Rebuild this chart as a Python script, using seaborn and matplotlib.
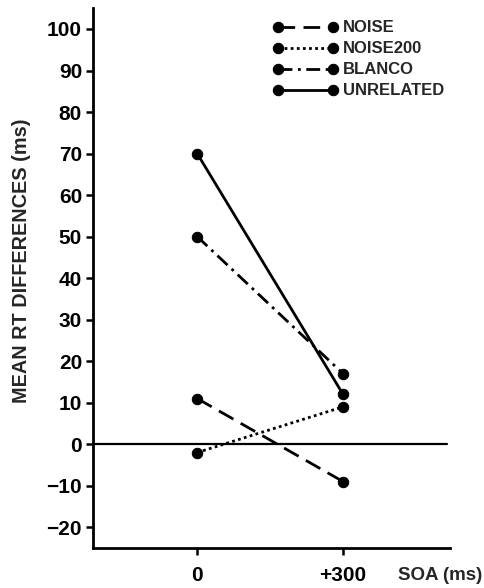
import seaborn as sns
import pandas as pd
import matplotlib.pyplot as plt

sns.set_style('ticks')
plt.rcParams['font.family'] = ['Liberation Sans', 'DejaVu Sans']
plt.rcParams['font.weight'] = 'bold'

soa = [0, 300]
noise = [11, -9]
noise200 = [-2, 9]
blanco = [50, 17]
unrelated = [70, 12]
conditions = ['NOISE', 'NOISE200', 'BLANCO', 'UNRELATED']
tick_labels = ['0', '+300']

series = {'NOISE': noise, 'NOISE200': noise200, 'BLANCO': blanco, 'UNRELATED': unrelated}
rows = []
for name in conditions:
    for x, y in zip(soa, series[name]):
        rows.append({'soa': x, 'rt': y, 'cond': name})
df = pd.DataFrame(rows)

styles = {'NOISE': (0, (6, 3)), 'NOISE200': (0, (1, 1.2)),
          'BLANCO': (0, (5, 2, 1, 2)), 'UNRELATED': '-'}

fig = plt.figure(figsize=(4.85, 5.88), dpi=100)
ax = fig.add_axes([0.192, 0.068, 0.736, 0.918])

ax.axhline(0, color='black', lw=1.6, xmax=0.99, zorder=1)
for name in conditions:
    sub = df[df['cond'] == name]
    sns.lineplot(data=sub, x='soa', y='rt', ax=ax, color='black', lw=2,
                 linestyle=styles[name], marker='o', markersize=7.5,
                 markeredgecolor='black', label=name)

ax.set_xlim(-214, 520)
ax.set_ylim(-25, 105)
ax.set_xticks(soa)
ax.set_xticklabels(tick_labels, fontsize=15, fontweight='bold')
ax.set_yticks(range(-20, 101, 10))
ax.set_yticklabels([str(v).replace('-', '\u2212') for v in range(-20, 101, 10)],
                   fontsize=15, fontweight='bold')
ax.tick_params(axis='both', direction='out', length=5, width=1.8, colors='black', pad=3)
ax.tick_params(axis='x', pad=8)
sns.despine(ax=ax)
for s in ['left', 'bottom']:
    ax.spines[s].set_linewidth(2)
    ax.spines[s].set_color('black')

ax.set_xlabel('')
ax.set_ylabel('')
ax.text(-0.202, 0.533, 'MEAN RT DIFFERENCES (ms)', transform=ax.transAxes,
        rotation=90, ha='center', va='center', fontsize=14.3, fontweight='bold',
        clip_on=False)
ax.text(0.973, -0.05, 'SOA (ms)', transform=ax.transAxes, ha='center', va='center',
        fontsize=13.5, fontweight='bold', clip_on=False)

leg = ax.legend(loc='upper left', bbox_to_anchor=(0.476, 0.996), frameon=False,
                fontsize=12, handlelength=3.9, handletextpad=0.3, labelspacing=0.36,
                numpoints=2, borderaxespad=0.2)
for t in leg.get_texts():
    t.set_fontweight('bold')

fig.savefig('out.png', dpi=100)
